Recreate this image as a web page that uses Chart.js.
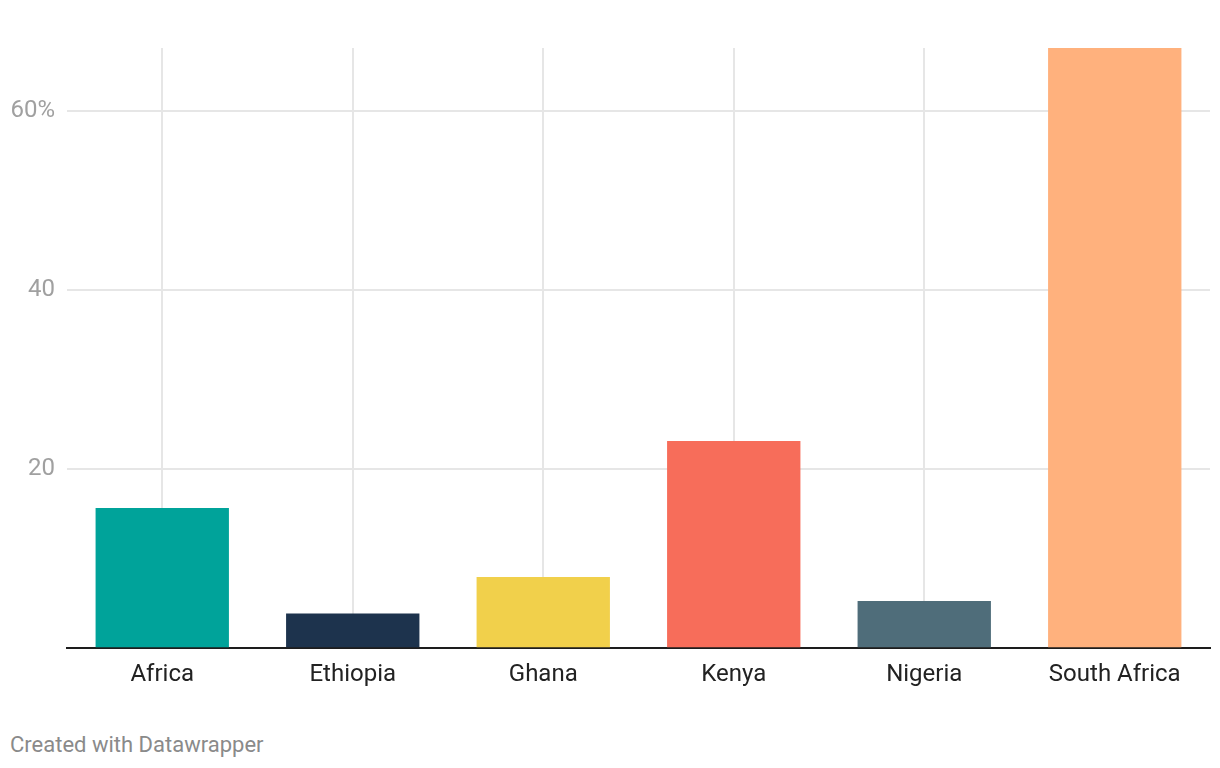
<!DOCTYPE html>
<html>
<head>
<meta charset="utf-8">
<script src="https://cdn.jsdelivr.net/npm/chart.js@4"></script>
<style>
  html, body { margin: 0; padding: 0; background: #fff; }
  #wrap { position: absolute; left: 0; top: 0; width: 1220px; height: 700px; }
  #credit { position: absolute; left: 10px; top: 731px; font: 22px Roboto, sans-serif; line-height: 28px; color: #8a8a8a; }
</style>
</head>
<body>
<div id="wrap"><canvas id="c" width="1220" height="700"></canvas></div>
<div id="credit">Created with Datawrapper</div>
<script>
const categories = ["Africa", "Ethiopia", "Ghana", "Kenya", "Nigeria", "South Africa"];
const values = [15.6, 3.8, 7.9, 23.1, 5.2, 67.1];
const barColors = ["#00a39a", "#1d334d", "#f1d04b", "#f76d5a", "#4f6d7a", "#ffb17d"];
const yTicks = [20, 40, 60];
const yTickLabels = ["20", "40", "60%"];

new Chart(document.getElementById("c"), {
  type: "bar",
  data: {
    labels: categories,
    datasets: [{
      data: values,
      backgroundColor: barColors,
      borderWidth: 0,
      barPercentage: 0.7,
      categoryPercentage: 1.0
    }]
  },
  options: {
    responsive: false,
    animation: false,
    layout: { padding: { top: 48, right: 10, left: 0, bottom: 0 } },
    plugins: { legend: { display: false }, tooltip: { enabled: false } },
    scales: {
      x: {
        offset: true,
        grid: { display: true, offset: false, color: "#e6e6e6", lineWidth: 2, drawTicks: false },
        border: { display: true, color: "#1d1d1d", width: 2 },
        ticks: { color: "#222", font: { family: "Roboto", size: 24 }, padding: 13 },
        afterFit: s => { s.height = 52.5; }
      },
      y: {
        min: 0,
        max: Math.max(...values),
        afterBuildTicks: s => { s.ticks = yTicks.map(v => ({ value: v })); },
        grid: { color: "#e6e6e6", lineWidth: 2, drawTicks: false },
        border: { display: false },
        ticks: {
          color: "#a0a0a0",
          font: { family: "Roboto", size: 24 },
          padding: 12,
          callback: v => { const i = yTicks.indexOf(v); return i >= 0 ? yTickLabels[i] : ""; }
        },
        afterFit: s => { s.width = 67; }
      }
    }
  }
});
</script>
</body>
</html>
